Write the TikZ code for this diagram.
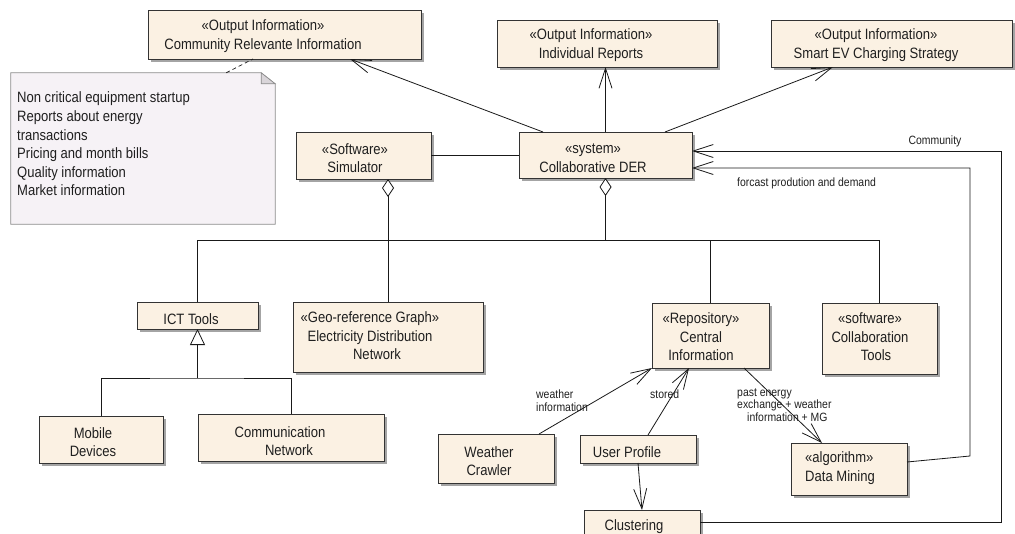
\documentclass[tikz,border=0pt]{standalone}
\usepackage{fontspec}
\setmainfont{Liberation Sans}[FakeStretch=0.87]
\usetikzlibrary{arrows.meta,shadows}

\definecolor{boxfill}{HTML}{FBF1E3}
\definecolor{boxline}{HTML}{333333}
\definecolor{notefill}{HTML}{F6F2F6}
\definecolor{noteline}{HTML}{8C8C8C}
\definecolor{earfill}{HTML}{D9D5D9}
\definecolor{shadowgray}{HTML}{A4A4A4}

% class box given by its corners (x1,y1) and (x2,y2)
\newcommand\umlbox[5]{%
  \node[umlbox, minimum width={#4-#2}, minimum height={#5-#3}] (#1)
    at ({(#2+#4)/2},{(#3+#5)/2}) {};}

\begin{document}
\begin{tikzpicture}[x=1pt,y=-1pt,
  umlbox/.style={draw=boxline, fill=boxfill, line width=0.9pt, inner sep=0pt, outer sep=0pt,
    drop shadow={shadow xshift=3pt, shadow yshift=-3pt, fill=shadowgray, opacity=1}},
  txt/.style={font=\fontsize{15}{18.6}\selectfont, align=center, inner sep=0pt, text=black!88},
  small/.style={font=\fontsize{12}{12.5}\selectfont, align=left, inner sep=0pt, text=black!88},
  link/.style={draw=black!90, line width=0.8pt},
  nav/.style={link, -{Straight Barb[length=20pt,width=13pt]}},
  agg/.style={link, {Diamond[open,fill=white,length=18pt,width=12pt]}-},
  inherit/.style={link, -{Triangle[open,fill=white,length=16pt,width=15pt]}},
  ]
\useasboundingbox (0,0) rectangle (1015,533);
\clip (0,0) rectangle (1015,533);

% ---- boxes ----
\umlbox{comm}{148}{10}{421}{59}
\umlbox{indiv}{497}{20}{717}{67}
\umlbox{smartev}{771}{20}{1012}{67}
\umlbox{sim}{296}{132}{431}{179}
\umlbox{der}{519}{132}{692}{178}
\umlbox{ict}{137}{302}{258}{329}
\umlbox{geo}{293}{302}{483}{372}
\umlbox{repo}{652}{303}{769}{368}
\umlbox{collab}{822}{303}{937}{374}
\umlbox{mobile}{39}{416}{163}{463}
\umlbox{commnet}{198}{414}{384}{461}
\umlbox{weather}{438}{434}{554}{483}
\umlbox{user}{580}{435}{696}{463}
\umlbox{dm}{791}{443}{907}{495}
\umlbox{clust}{584}{510}{700}{534}

% ---- box texts ----
\node[txt] (comm-t) at (263,36) {«Output Information»\\Community Relevante Information};
\node[txt] (indiv-t) at (591,45) {«Output Information»\\Individual Reports};
\node[txt] (smartev-t) at (876,45) {«Output Information»\\Smart EV Charging Strategy};
\node[txt] (sim-t) at (355,158) {«Software»\\Simulator};
\node[txt] (der-t) at (593,158) {«system»\\Collaborative DER};
\node[txt] (ict-t) at (191,319) {ICT Tools};
\node[txt] (geo-t) at (370,336) {«Geo-reference Graph»\\Electricity Distribution\\\hspace*{14pt}Network};
\node[txt] (repo-t) at (701,337) {«Repository»\\Central\\Information};
\node[txt] (collab-t) at (870,337) {«software»\\Collaboration\\\hspace*{12pt}Tools};
\node[txt] (mobile-t) at (93,442) {Mobile\\Devices};
\node[txt] (commnet-t) at (280,441) {Communication\\\hspace*{18pt}Network};
\node[txt] (weather-t) at (489,461) {Weather\\Crawler};
\node[txt] (user-t) at (627,452) {User Profile};
\node[txt, align=left, anchor=west] (dm-t) at (805,468) {«algorithm»\\Data Mining};
\node[txt] (clust-t) at (634,527) {Clustering};

% ---- note with folded corner ----
\node[minimum width=264, minimum height=151, inner sep=0pt] (note) at (143,148.5) {};
\filldraw[fill=notefill, draw=noteline, line width=0.7pt]
  (note.north west) -- ([xshift=-14pt]note.north east) -- ([yshift=-11pt]note.north east)
  -- (note.south east) -- (note.south west) -- cycle;
\filldraw[fill=earfill, draw=noteline, line width=0.7pt]
  ([xshift=-14pt]note.north east) -- ([xshift=-14pt,yshift=-11pt]note.north east)
  -- ([yshift=-11pt]note.north east) -- cycle;
\node[txt, align=left, anchor=west] (note-t) at (17,144)
  {Non critical equipment startup\\Reports about energy\\transactions\\Pricing and month bills\\Quality information\\Market information};
\draw[link, line width=0.7pt, dash pattern=on 4pt off 3pt]
  ([xshift=-49pt]note.north east) -- ([xshift=-31.5pt]comm.south);

% ---- associations from the system ----
\draw[nav] ([xshift=-62.5pt]der.north) -- ([xshift=65.5pt]comm.south);
\draw[nav] (der.north) -- (der.north |- indiv.south);
\draw[nav] ([xshift=59.5pt]der.north) -- ([xshift=-58.5pt]smartev.south);
\draw[link] (sim.east) -- (sim.east -| der.west);

% ---- aggregations ----
\coordinate (bus) at (0,240);
\draw[agg] (geo.north |- sim.south) -- (geo.north);
\draw[agg] (der.south) -- (der.south |- bus) -| (ict.north);
\draw[link] (der.south |- bus) -| (repo.north);
\draw[link] (der.south |- bus) -| (collab.north);

% ---- generalization ----
\path (ict.south) ++(0,49) coordinate (genjoin);
\draw[inherit] (genjoin) -- (ict.south);
\draw[link] (mobile.north) |- (genjoin) -| (commnet.north);

% ---- repository flows ----
\draw[nav] ([xshift=43pt]weather.north) -- (repo.south west);
\draw[nav] ([xshift=10pt]user.north) -- ([xshift=-21.5pt]repo.south);
\draw[nav] ([xshift=33.5pt]repo.south) -- ([xshift=-27pt]dm.north);
\draw[nav] (user.south) -- (clust.north);

% ---- feedback to the system ----
\coordinate (railA) at (1001,0);
\coordinate (fbend) at (970,456);
\draw[nav] (clust.east) -- (clust.east -| railA) |- ([yshift=4pt]der.east);
\draw[nav] ([yshift=7pt]dm.east) -- (fbend) |- ([yshift=-13pt]der.east);

% ---- connector labels ----
\node[small] (lbl-community) at (935,141) {Community};
\node[small, anchor=west] (lbl-forecast) at (737,183) {forcast prodution and demand};
\node[small, anchor=west] (lbl-weather) at (536,400.5) {weather\\information};
\node[small, anchor=west] (lbl-stored) at (650,394) {stored};
\node[small, anchor=west] (lbl-past) at (737,405) {past energy\\exchange + weather\\\hspace*{10pt}information + MG};
\end{tikzpicture}
\end{document}
